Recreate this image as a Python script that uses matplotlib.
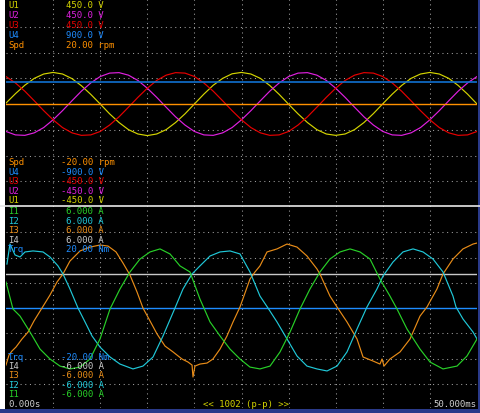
import matplotlib
matplotlib.use("Agg")
import matplotlib.pyplot as plt

# ---- voltage page (top), 1 ms steps, V ----
t_u = list(range(51))
u1 = [4, 45, 82, 112, 131, 138, 131, 111, 80, 42, 0, -43, -81, -112, -131, -138, -131, -112, -81, -43,
      0, 43, 82, 112, 132, 138, 131, 112, 81, 42, -1, -43, -81, -112, -131, -137, -131, -112, -81, -42,
      1, 43, 81, 112, 131, 138, 131, 112, 81, 43, 0]
u2 = [-120, -135, -137, -126, -103, -69, -29, 14, 56, 92, 120, 135, 137, 126, 103, 69, 29, -14, -56, -92,
      -120, -135, -137, -126, -103, -69, -29, 14, 56, 92, 120, 135, 137, 126, 103, 69, 29, -14, -56, -92,
      -120, -135, -137, -126, -103, -69, -29, 14, 56, 92, 120]
u3 = [120, 92, 56, 14, -29, -69, -103, -126, -137, -135, -120, -92, -56, -14, 29, 69, 103, 126, 137, 135,
      120, 92, 56, 14, -29, -69, -103, -126, -137, -135, -120, -92, -56, -14, 29, 69, 103, 126, 137, 135,
      120, 92, 56, 14, -29, -69, -103, -126, -137, -135, -120]
u4_level = 192      # V, flat
spd_level = 0       # rpm, flat

# ---- current page (bottom), ms / A ----
t_i1 = [0, 0.74, 1.49, 2.55, 3.61, 4.67, 5.73, 6.79, 7.86, 8.92, 9.98, 11.04, 12.1, 13.16, 14.23, 15.29,
        16.35, 17.41, 18.47, 19.53, 20.59, 21.66, 22.72, 23.78, 24.84, 25.9, 26.96, 28.03, 29.09, 30.15,
        31.21, 32.27, 33.33, 34.39, 35.46, 36.52, 37.58, 38.64, 39.7, 40.76, 41.51, 42.57, 43.95, 45.01,
        46.39, 47.88, 48.94, 50]
i1 = [1.54, -0.06, -0.48, -1.43, -2.44, -3.03, -3.45, -3.62, -3.51, -3.03, -1.84, -0.06, 1.13, 2.14, 2.91,
      3.33, 3.51, 3.21, 2.5, 2.14, 0.53, -0.83, -1.66, -2.44, -3.03, -3.51, -3.62, -3.45, -2.61, -1.43,
      -0.06, 1.13, 2.14, 2.91, 3.33, 3.51, 3.33, 2.91, 1.72, 0.71, -0.06, -1.25, -2.44, -3.21, -3.62,
      -3.45, -2.85, -1.84]

t_i2 = [0.1, 0.42, 0.96, 1.49, 2.02, 2.87, 3.93, 4.67, 5.52, 6.05, 6.79, 7.64, 8.39, 9.13, 9.98, 11.04,
        12.1, 13.48, 14.54, 15.61, 16.67, 17.94, 18.79, 19.75, 20.59, 21.66, 22.72, 23.78, 24.84, 25.9,
        26.96, 27.81, 28.77, 29.83, 30.89, 31.95, 33.01, 34.08, 35.14, 36.2, 37.26, 38.32, 39.38, 40.02,
        41.08, 42.14, 43.21, 44.27, 45.33, 46.39, 47.45, 47.77, 48.51, 49.58, 50]
i2 = [2.61, 3.8, 3.15, 3.03, 3.33, 3.39, 3.33, 3.03, 2.5, 2.02, 1.13, 0, -0.83, -1.66, -2.32, -2.91,
      -3.33, -3.62, -3.45, -2.91, -1.66, 0, 1.13, 2.02, 2.5, 3.09, 3.33, 3.39, 3.21, 2.14, 0.71, 0,
      -0.83, -1.84, -2.85, -3.45, -3.62, -3.74, -3.45, -2.61, -1.25, 0.06, 1.13, 1.9, 2.73, 3.33, 3.51,
      3.33, 2.91, 2.14, 0.71, 0.06, -0.65, -1.43, -1.84]

t_i3 = [0, 0.32, 0.64, 1.06, 1.7, 2.34, 2.97, 3.82, 4.67, 5.41, 6.05, 6.79, 7.86, 8.92, 9.98, 10.83,
        11.68, 12.42, 13.16, 13.91, 14.54, 15.29, 16.03, 16.88, 17.73, 18.68, 19.32, 19.75, 19.85, 20.06,
        20.59, 21.34, 21.97, 22.72, 23.46, 24.1, 24.84, 25.9, 26.43, 26.96, 27.71, 28.77, 29.83, 30.89,
        31.95, 33.01, 33.33, 34.39, 35.14, 36.2, 37.26, 37.9, 38.96, 39.7, 39.92, 40.13, 40.76, 41.83,
        42.89, 43.95, 44.69, 45.75, 46.39, 47.45, 48.51, 49.58, 50]
i3 = [-3.39, -2.79, -2.55, -2.32, -1.84, -1.43, -0.77, 0, 0.77, 1.54, 2.02, 2.79, 3.39, 3.62, 3.74, 3.68,
      3.33, 2.67, 1.96, 0.95, 0, -0.77, -1.54, -2.26, -2.61, -3.03, -3.21, -3.39, -4.1, -3.45, -3.33,
      -3.27, -3.03, -2.44, -1.66, -0.83, 0.06, 1.72, 2.14, 2.5, 3.33, 3.51, 3.8, 3.62, 3.09, 2.32, 2.02,
      0.71, 0.06, -0.83, -1.84, -2.91, -3.15, -3.33, -3.03, -3.45, -3.03, -2.61, -1.84, -0.48, 0.06,
      1.13, 2.02, 2.91, 3.51, 3.8, 3.86]
i4_level = 2.0      # A, flat
trq_level = 0       # Nm, flat

YEL, MAG, RED, BLU, ORA = "#d4d400", "#e020e0", "#e80000", "#1e8cff", "#ff9000"
GRN, CYA, OR2, GRY = "#28d028", "#20c8d8", "#e88c18", "#c8c8c8"

W, H = 481, 414
fig = plt.figure(figsize=(W / 100, H / 100), dpi=100, facecolor="black")


def box(x0, y0, x1, y1):
    return [x0 / W, 1 - y1 / H, (x1 - x0) / W, (y1 - y0) / H]


dots = dict(color="#a0a0a0", lw=0.75, ls=(0, (1, 3.5)))

# background with the vertical division lines, full height
bg = fig.add_axes(box(6, 0, 477, 409))
bg.set_facecolor("black")
bg.set_xlim(0, 50)
bg.set_ylim(0, 1)
for k in range(1, 10):
    bg.axvline(5 * k, **dots)
bg.axis("off")

top = fig.add_axes(box(6, 2, 477, 208))
top.set_xlim(0, 50)
top.set_ylim(-450, 450)
bot = fig.add_axes(box(6, 208, 477, 410))
bot.set_xlim(0, 50)
bot.set_ylim(-6, 6)
for ax, step in ((top, 112.5), (bot, 1.5)):
    ax.patch.set_alpha(0)
    lo = ax.get_ylim()[0]
    for k in range(1, 8):
        if k != 4:
            ax.axhline(lo + step * k, **dots)
    ax.axis("off")

lw = 0.85
top.plot(t_u, u1, color=YEL, lw=lw)
top.plot(t_u, u2, color=MAG, lw=lw)
top.plot(t_u, u3, color=RED, lw=lw)
top.axhline(u4_level * 450 / 900, color="#1070d0", lw=1.2)
top.axhline(spd_level * 450 / 20, color=ORA, lw=1.0)

bot.axhline(i4_level, color=GRY, lw=1.0)
bot.axhline(trq_level * 6 / 20, color=BLU, lw=1.0)
bot.plot(t_i3, i3, color=OR2, lw=lw)
bot.plot(t_i2, i2, color=CYA, lw=lw)
bot.plot(t_i1, i1, color=GRN, lw=lw)

# divider between the two pages
fig.add_artist(plt.Line2D([0, 1], [1 - 206.5 / H] * 2, color="#e8e8e8", lw=1.2))

# borders
fig.add_artist(plt.Rectangle((0, 0), 5 / W, 1, color="white", lw=0))
fig.add_artist(plt.Rectangle((478 / W, 0), 3 / W, 1, color="#2a3a8a", lw=0))
fig.add_artist(plt.Rectangle((0, 0), 1, 4 / H, color="#2a3a8a", lw=0))

FONT = dict(family="DejaVu Sans Mono", fontsize=6.5, va="center")


def label(x, y, s, c, ha="left"):
    fig.text(x / W, 1 - y / H, s, color=c, ha=ha, **FONT)


rows = [
    (6, "U1", "450.0 V", YEL), (15.75, "U2", "450.0 V", MAG), (25.5, "U3", "450.0 V", RED),
    (35.25, "U4", "900.0 V", BLU), (45, "Spd", "20.00 rpm", ORA),
    (163, "Spd", "-20.00 rpm", ORA), (172.5, "U4", "-900.0 V", BLU), (182, "U3", "-450.0 V", RED),
    (191.5, "U2", "-450.0 V", MAG), (201, "U1", "-450.0 V", YEL),
    (212, "I1", "6.000 A", GRN), (221.5, "I2", "6.000 A", CYA), (231, "I3", "6.000 A", OR2),
    (240.5, "I4", "6.000 A", GRY), (250, "Trq", "20.00 Nm", BLU),
    (357, "Trq", "-20.00 Nm", BLU), (366.5, "I4", "-6.000 A", GRY), (376, "I3", "-6.000 A", OR2),
    (385.5, "I2", "-6.000 A", CYA), (395, "I1", "-6.000 A", GRN),
]
for y, name, val, c in rows:
    label(8, y, name, c)
    label(66 - (5 if val.startswith("-") else 0), y, val, c)

label(8, 404.5, "0.000s", "#d0d0d0")
label(203, 405, "<< 1002 (p-p) >>", YEL)
label(476, 405, "50.000ms", "#d0d0d0", ha="right")

fig.savefig("out.png", dpi=100, facecolor="black")
